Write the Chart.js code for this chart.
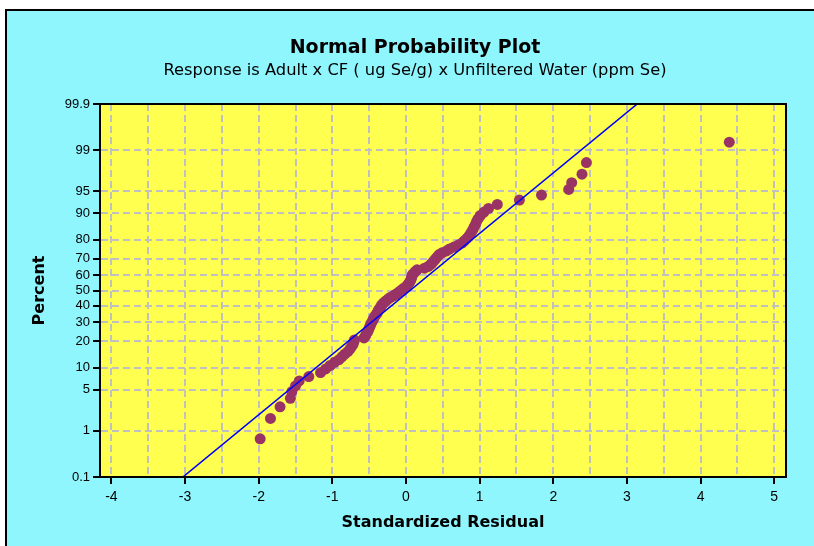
<!DOCTYPE html>
<html>
<head>
<meta charset="utf-8">
<script src="https://cdn.jsdelivr.net/npm/chart.js@4.4.1/dist/chart.umd.min.js"></script>
<style>
	html, body { margin: 0; padding: 0; background: #fff; }
	#wrap { position: relative; width: 814px; height: 546px; }
</style>
</head>
<body>
<div id="wrap"><canvas id="probChart"></canvas></div>
<script>
// standardized residuals, sorted
const residuals = [
	-1.98, -1.84, -1.71, -1.57, -1.55, -1.50, -1.45, -1.32, -1.16, -1.09,
	-1.03, -0.97, -0.91, -0.87, -0.83, -0.79, -0.76, -0.74, -0.72, -0.71,
	-0.70, -0.57, -0.55, -0.54, -0.52, -0.51, -0.50, -0.49, -0.48, -0.47,
	-0.455, -0.445, -0.435, -0.42, -0.405, -0.39, -0.38, -0.37, -0.355, -0.34,
	-0.33, -0.31, -0.29, -0.265, -0.24, -0.21, -0.17, -0.14, -0.11, -0.08,
	-0.055, -0.03, 0.00, 0.02, 0.035, 0.05, 0.06, 0.07, 0.075, 0.08,
	0.09, 0.11, 0.13, 0.15, 0.25, 0.30, 0.33, 0.35, 0.37, 0.39,
	0.41, 0.43, 0.45, 0.49, 0.55, 0.59, 0.65, 0.71, 0.76, 0.79,
	0.82, 0.85, 0.87, 0.89, 0.91, 0.925, 0.945, 0.96, 0.98, 1.01,
	1.06, 1.12, 1.24, 1.54, 1.84, 2.21, 2.25, 2.39, 2.45, 4.39,
];

// cumulative percent for each residual
const percents = [
	0.7, 1.7, 2.7, 3.7, 4.7, 5.7, 6.7, 7.7, 8.7, 9.7,
	10.7, 11.7, 12.6, 13.6, 14.6, 15.6, 16.6, 17.6, 18.6, 19.6,
	20.6, 21.6, 22.6, 23.6, 24.6, 25.6, 26.6, 27.6, 28.6, 29.6,
	30.6, 31.6, 32.6, 33.6, 34.6, 35.6, 36.6, 37.5, 38.5, 39.5,
	40.5, 41.5, 42.5, 43.5, 44.5, 45.5, 46.5, 47.5, 48.5, 49.5,
	50.5, 51.5, 52.5, 53.5, 54.5, 55.5, 56.5, 57.5, 58.5, 59.5,
	60.5, 61.5, 62.5, 63.4, 64.4, 65.4, 66.4, 67.4, 68.4, 69.4,
	70.4, 71.4, 72.4, 73.4, 74.4, 75.4, 76.4, 77.4, 78.4, 79.4,
	80.4, 81.4, 82.4, 83.4, 84.4, 85.4, 86.4, 87.4, 88.3, 89.3,
	90.3, 91.3, 92.3, 93.3, 94.3, 95.3, 96.3, 97.3, 98.3, 99.3,
];

// fitted normal line
const fitResiduals = [-3.03, 3.14];
const fitPercents = [0.1, 99.9];

const yTickLabels = ['0.1', '1', '5', '10', '20', '30', '40', '50', '60', '70', '80', '90', '95', '99', '99.9'];

// inverse normal cdf (Acklam)
function probit(p) {
	const a = [-39.69683028665376, 220.9460984245205, -275.9285104469687, 138.3577518672690, -30.66479806614716, 2.506628277459239];
	const b = [-54.47609879822406, 161.5858368580409, -155.6989798598866, 66.80131188771972, -13.28068155288572];
	const c = [-0.007784894002430293, -0.3223964580411365, -2.400758277161838, -2.549732539343734, 4.374664141464968, 2.938163982698783];
	const d = [0.007784695709041462, 0.3224671290700398, 2.445134137142996, 3.754408661907416];
	const pl = 0.02425;
	if (p < pl) {
		const q = Math.sqrt(-2 * Math.log(p));
		return (((((c[0] * q + c[1]) * q + c[2]) * q + c[3]) * q + c[4]) * q + c[5]) /
			((((d[0] * q + d[1]) * q + d[2]) * q + d[3]) * q + 1);
	}
	if (p > 1 - pl) {
		const q = Math.sqrt(-2 * Math.log(1 - p));
		return -(((((c[0] * q + c[1]) * q + c[2]) * q + c[3]) * q + c[4]) * q + c[5]) /
			((((d[0] * q + d[1]) * q + d[2]) * q + d[3]) * q + 1);
	}
	const q = p - 0.5;
	const r = q * q;
	return (((((a[0] * r + a[1]) * r + a[2]) * r + a[3]) * r + a[4]) * r + a[5]) * q /
		(((((b[0] * r + b[1]) * r + b[2]) * r + b[3]) * r + b[4]) * r + 1);
}

const FONT = "'DejaVu Sans', sans-serif";
const TICK_FONT = "'Liberation Sans', Arial, sans-serif";

// background, plot area and frame
const backdrop = {
	id: 'backdrop',
	beforeDraw(chart) {
		const { ctx, chartArea: a } = chart;
		ctx.save();
		ctx.fillStyle = '#ffffff';
		ctx.fillRect(0, 0, chart.width, chart.height);
		ctx.fillStyle = '#8ff6fe';
		ctx.fillRect(6, 10, chart.width, chart.height);
		ctx.strokeStyle = '#000';
		ctx.lineWidth = 2;
		ctx.beginPath();
		ctx.moveTo(6, chart.height + 5);
		ctx.lineTo(6, 10);
		ctx.lineTo(chart.width + 5, 10);
		ctx.stroke();
		ctx.fillStyle = '#ffff4f';
		ctx.fillRect(a.left, a.top, a.right - a.left, a.bottom - a.top);
		ctx.restore();
	},
	afterDraw(chart) {
		const { ctx, chartArea: a } = chart;
		ctx.save();
		ctx.strokeStyle = '#000';
		ctx.lineWidth = 2;
		ctx.strokeRect(a.left, a.top, a.right - a.left, a.bottom - a.top);
		ctx.fillStyle = '#000';
		ctx.textAlign = 'center';
		ctx.textBaseline = 'middle';
		ctx.font = 'bold 19px ' + FONT;
		ctx.fillText('Normal Probability Plot', 415, 48);
		ctx.font = '16.3px ' + FONT;
		ctx.fillText('Response is Adult x CF ( ug Se/g) x Unfiltered Water (ppm Se)', 415, 71);
		ctx.restore();
	},
};

const ctx = document.getElementById('probChart').getContext('2d');
new Chart(ctx, {
	type: 'scatter',
	data: {
		datasets: [
			{
				label: 'Fit',
				type: 'line',
				data: fitResiduals.map((x, i) => ({ x, y: probit(fitPercents[i] / 100) })),
				borderColor: '#0000ff',
				borderWidth: 1.6,
				pointRadius: 0,
				fill: false,
				order: 0,
			},
			{
				label: 'Residuals',
				data: residuals.map((x, i) => ({ x, y: probit(percents[i] / 100) })),
				backgroundColor: '#993366',
				borderWidth: 0,
				pointRadius: 5.5,
				order: 1,
			},
		],
	},
	options: {
		responsive: true,
		maintainAspectRatio: false,
		animation: false,
		layout: { padding: { top: 104, left: 20, right: 28, bottom: 4 } },
		plugins: {
			legend: { display: false },
			tooltip: { enabled: false },
		},
		scales: {
			x: {
				type: 'linear',
				min: -4.155,
				max: 5.16,
				afterFit: (scale) => { scale.height = 65; },
				ticks: {
					stepSize: 0.5,
					includeBounds: false,
					autoSkip: false,
					maxRotation: 0,
					padding: 5,
					color: '#000',
					font: { family: TICK_FONT, size: 14 },
					callback: (v) => (Number.isInteger(v) ? String(v) : ''),
				},
				grid: {
					color: '#c0c0c0',
					lineWidth: 2,
					tickLength: 7,
					tickWidth: 2,
					tickColor: (c) => (c.tick && Number.isInteger(c.tick.value) ? '#000' : 'rgba(0,0,0,0)'),
				},
				border: { color: '#000', width: 2, dash: [7, 4] },
				title: {
					display: true,
					text: 'Standardized Residual',
					color: '#000',
					font: { family: FONT, size: 16, weight: 'bold' },
					padding: { top: 10, bottom: 10 },
				},
			},
			y: {
				type: 'linear',
				min: probit(0.001),
				max: probit(0.999),
				afterFit: (scale) => { scale.width = 80; },
				afterBuildTicks: (scale) => {
					scale.ticks = yTickLabels.map((p) => ({ value: probit(Number(p) / 100) }));
				},
				ticks: {
					autoSkip: false,
					padding: 3,
					color: '#000',
					font: { family: TICK_FONT, size: 13 },
					callback: (v, i) => yTickLabels[i],
				},
				grid: {
					color: '#c0c0c0',
					lineWidth: 2,
					tickLength: 7,
					tickWidth: 2,
					tickColor: '#000',
				},
				border: { color: '#000', width: 2, dash: [7, 4] },
				title: {
					display: true,
					text: 'Percent',
					color: '#000',
					font: { family: FONT, size: 16, weight: 'bold' },
					padding: { top: 10, bottom: 0 },
				},
			},
		},
	},
	plugins: [backdrop],
});
</script>
</body>
</html>
